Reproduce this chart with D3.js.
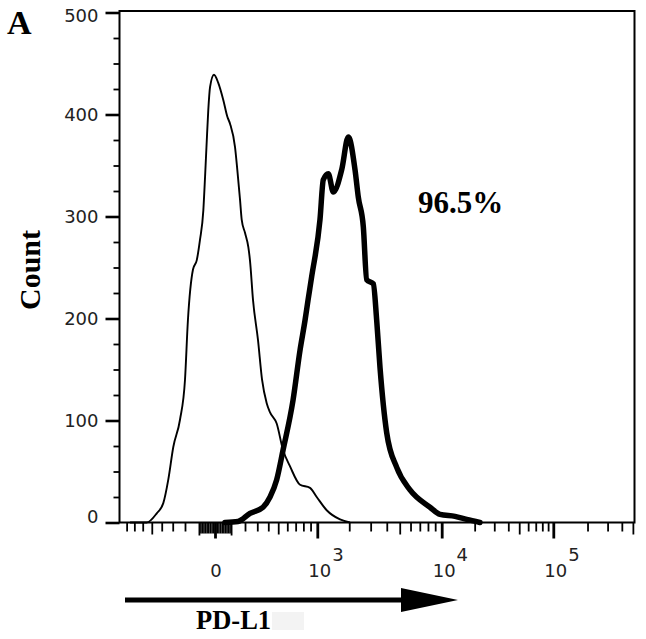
<!DOCTYPE html>
<meta charset="utf-8">
<title>PD-L1 histogram</title>
<style>
    body { margin: 0; background: #fff; }
    .tick text { font: 18px "DejaVu Sans", sans-serif; fill: #222; }
    .title { font-family: "Liberation Serif", "Times New Roman", serif; font-weight: bold; fill: #000; }
</style>

<svg width="646" height="639"></svg>
<script src="https://d3js.org/d3.v7.min.js"></script>
<script>

    // isotype control (thin line), fluorescence vs count
    var ctrlX = [-755, -555, -449, -385, -339, -295, -239, -200, -178, -141, -115, -93, -71, -60, -50, -40, -29, -6,
                 19, 50, 75, 93, 127, 143, 163, 175, 200, 226, 239, 264, 306, 342, 385, 417, 484, 552, 632, 756, 892,
                 991, 1246, 1660, 2030];
    var ctrlY = [0, 0, 9, 19, 42, 74, 101, 140, 198, 248, 257, 277, 306, 339, 372, 404, 427, 439,
                 431, 414, 398, 391, 368, 346, 316, 297, 284, 270, 257, 218, 179, 140, 117, 108, 97, 71, 55, 37, 34,
                 25, 12, 3, 0];

    // PD-L1 stained (thick line)
    var pdX = [60, 148, 239, 351, 417, 484, 552, 668, 756, 822, 864, 916, 1067, 1153, 1291, 1440, 1719, 1963, 2238,
               2384, 2620, 2791, 3148, 3347, 3550, 3994, 4749, 5947, 8272, 9730, 13260, 16950, 22340];
    var pdY = [0, 1, 9, 15, 25, 42, 71, 120, 169, 198, 218, 241, 297, 336, 342, 324, 346, 378, 346,
               319, 290, 238, 234, 198, 152, 88, 54, 32, 15, 8, 6, 3, 0];

    var yTicks = [0, 100, 200, 300, 400, 500];
    var xMajor = [0, 1e3, 1e4, 1e5];
    var xMajorLabels = [["0", ""], ["10", "3"], ["10", "4"], ["10", "5"]];
    var percentLabel = "96.5%";

    var svg = d3.select("svg"),
        pLeft = 119.5, pRight = 634.5, pTop = 11, pBottom = 522.5;

    var y = d3.scaleLinear().domain([0, 500]).range([pBottom, 12.5]);

    // logicle-like display: linear-ish around zero, log for the upper decades
    var x = d3.scaleSymlog().constant(600)
        .domain([-1000, 0, 1e3, 1e4, 1e5])
        .range([112.7, 215, 317.3, 441.7, 553.3]);

    // y axis
    var yMinor = d3.range(0, 501, 25).filter(function(v) { return v % 100; });
    var gyMinor = svg.append("g").attr("transform", "translate(" + pLeft + ",0)")
        .call(d3.axisLeft(y).tickValues(yMinor).tickSize(6).tickFormat(""));
    var gy = svg.append("g").attr("transform", "translate(" + pLeft + ",0)")
        .call(d3.axisLeft(y).tickValues(yTicks).tickSize(14).tickPadding(7));
    gy.selectAll("text").attr("dy", function(d) {
        return d === 0 ? "-0.02em" : d === 500 ? "0.52em" : "0.32em";
    });
    gyMinor.selectAll("line").attr("stroke-width", 1.8);
    gy.selectAll("line").attr("stroke-width", 2.6);
    gy.select(".domain").remove();
    gyMinor.select(".domain").remove();

    // x axis ticks: fine ticks around zero, minor, medium (5x) and decades
    var fine = [], small = [], medium = [];
    d3.range(10, 100, 10).forEach(function(v) { fine.push(v, -v); });
    d3.range(200, 1000, 100).forEach(function(v) { (v === 500 ? medium : small).push(v, -v); });
    [1e3, 1e4, 1e5].forEach(function(p) {
        d3.range(2, 10).forEach(function(m) { (m === 5 ? medium : small).push(m * p); });
    });
    function inside(v) { var px = x(v); return px > pLeft + 2 && px < pRight - 0.5; }

    function xTicks(vals, size, w) {
        var g = svg.append("g").attr("transform", "translate(0," + pBottom + ")")
            .call(d3.axisBottom(x).tickValues(vals.filter(inside)).tickSize(size).tickFormat(""));
        g.select(".domain").remove();
        g.selectAll("line").attr("stroke-width", w);
        return g;
    }
    xTicks(fine, 11, 1.6);
    xTicks([-100, 100], 13, 1.8);
    xTicks(small, 9, 1.8);
    xTicks(medium, 12, 1.8);
    xTicks(xMajor, 16, 2.8);

    // frame
    svg.append("path")
        .attr("d", "M" + pLeft + "," + pTop + "H" + pRight + "V" + pBottom + "H" + pLeft + "Z")
        .attr("fill", "none").attr("stroke", "#000").attr("stroke-width", 2);

    // x tick labels
    var lab = svg.append("g").attr("class", "tick");
    xMajor.forEach(function(v, i) {
        var t = lab.append("text").attr("y", 577);
        if (xMajorLabels[i][1] === "") {
            t.attr("x", x(v) + 1).attr("text-anchor", "middle").text(xMajorLabels[i][0]);
        } else {
            t.attr("x", x(v) - 9).text(xMajorLabels[i][0]);
            t.append("tspan").attr("dx", 1).attr("dy", -16).text(xMajorLabels[i][1]);
        }
    });

    // histograms
    var line = d3.line()
        .x(function(d) { return x(d[0]); })
        .y(function(d) { return y(d[1]); })
        .curve(d3.curveMonotoneX);

    svg.append("path")
        .datum(d3.zip(ctrlX, ctrlY))
        .attr("d", line)
        .attr("fill", "none").attr("stroke", "#000").attr("stroke-width", 1.9)
        .attr("stroke-linejoin", "round");

    svg.append("path")
        .datum(d3.zip(pdX, pdY))
        .attr("d", line)
        .attr("fill", "none").attr("stroke", "#000").attr("stroke-width", 5.5)
        .attr("stroke-linejoin", "round").attr("stroke-linecap", "round");

    // labels
    svg.append("text").attr("class", "title")
        .attr("x", 7).attr("y", 34).style("font-size", "34px").text("A");

    svg.append("text").attr("class", "title")
        .attr("transform", "translate(40,270) rotate(-90)")
        .attr("text-anchor", "middle").style("font-size", "30px").text("Count");

    svg.append("text").attr("class", "title")
        .attr("x", 418).attr("y", 213).style("font-size", "31px").text(percentLabel);

    // axis arrow
    svg.append("rect").attr("x", 272).attr("y", 612).attr("width", 32).attr("height", 18).attr("fill", "#f3f3f3");
    svg.append("line").attr("x1", 125).attr("x2", 405).attr("y1", 600).attr("y2", 600)
        .attr("stroke", "#000").attr("stroke-width", 5);
    svg.append("path").attr("d", "M401,588L458,600L401,612Z").attr("fill", "#000");

    svg.append("text").attr("class", "title")
        .attr("x", 196).attr("y", 629).style("font-size", "26.5px").text("PD-L1");

</script>
